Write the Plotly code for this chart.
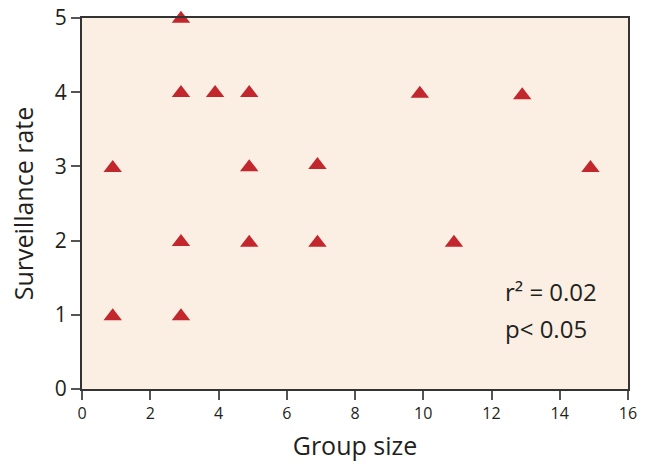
import plotly.graph_objects as go

group_size = [0.9, 0.9, 2.9, 2.9, 2.9, 2.9, 3.9, 4.9, 4.9, 4.9, 6.9, 6.9, 9.9, 10.9, 12.9, 14.9]
surveillance = [2.98, 0.98, 4.99, 3.99, 1.98, 0.98, 3.99, 3.99, 2.99, 1.97, 3.02, 1.97, 3.98, 1.97, 3.96, 2.98]
x_ticks = [0, 2, 4, 6, 8, 10, 12, 14, 16]
y_ticks = [0, 1, 2, 3, 4, 5]

FONT = "Open Sans"

fig = go.Figure()
fig.add_trace(go.Scatter(
    x=group_size, y=surveillance, mode="markers",
    marker=dict(symbol="triangle-up", size=16, color="#C1272D", line=dict(width=0)),
    cliponaxis=False, showlegend=False,
))

fig.update_layout(
    width=646, height=466,
    margin=dict(l=82, r=18, t=18, b=77, autoexpand=False),
    paper_bgcolor="white", plot_bgcolor="#FAEFE2",
    font=dict(family=FONT, color="#231F20"),
    xaxis=dict(
        range=[0, 16], tickvals=x_ticks, ticks="outside", ticklen=9, tickwidth=1.5,
        tickcolor="#555", showline=True, linecolor="#333", linewidth=2, mirror=True,
        showgrid=False, zeroline=False, tickfont=dict(size=16, family=FONT),
        automargin=False,
        title=dict(text="Group size", font=dict(size=25, family=FONT), standoff=14),
    ),
    yaxis=dict(
        range=[0, 5], tickvals=y_ticks, ticks="outside", ticklen=9, tickwidth=1.5,
        tickcolor="#555", showline=True, linecolor="#333", linewidth=2, mirror=True,
        showgrid=False, zeroline=False, tickfont=dict(size=21, family=FONT),
        automargin=False,
        title=dict(text="Surveillance rate", font=dict(size=25, family=FONT), standoff=14),
    ),
    annotations=[
        dict(x=12.35, y=1.31, xref="x", yref="y", xanchor="left", yanchor="middle",
             text="r² = 0.02", showarrow=False, font=dict(size=24, family=FONT)),
        dict(x=12.35, y=0.82, xref="x", yref="y", xanchor="left", yanchor="middle",
             text="p< 0.05", showarrow=False, font=dict(size=24, family=FONT)),
    ],
)

fig.write_html("out.html", config={"displayModeBar": False},
               post_script="document.body.style.margin='0';document.body.style.overflow='hidden';")
